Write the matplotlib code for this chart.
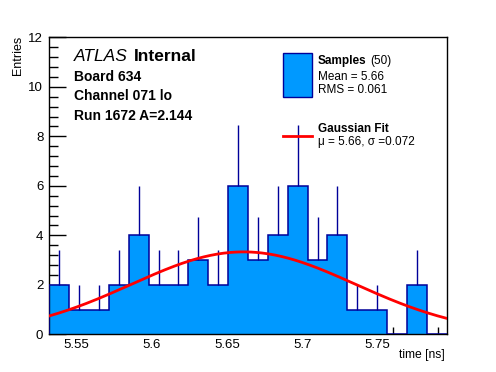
import numpy as np
import matplotlib
matplotlib.use('Agg')
import matplotlib.pyplot as plt
from matplotlib.patches import Rectangle
from matplotlib.lines import Line2D

# histogram of pulse times, 20 bins
counts = [2, 1, 1, 2, 4, 2, 2, 3, 2, 6, 3, 4, 6, 3, 4, 1, 1, 0, 2, 0]
x_lo, x_hi = 5.532, 5.796
# gaussian fit as drawn
fit_amp, fit_mu, fit_sigma = 3.33, 5.661, 0.0745

xticks = [5.55, 5.6, 5.65, 5.7, 5.75]
xtick_labels = ['5.55', '5.6', '5.65', '5.7', '5.75']
yticks = [0, 2, 4, 6, 8, 10, 12]

W, H = 496, 372
fill_col = '#0099ff'
edge_col = '#000099'

plt.rcParams['font.family'] = ['Liberation Sans', 'DejaVu Sans']


def px(x, y):
    return x / W, 1 - y / H


fig = plt.figure(figsize=(W / 100, H / 100), dpi=100)
ax = fig.add_axes([49.3 / W, (H - 334.3) / H, (446.7 - 49.3) / W, (334.3 - 37.3) / H])

counts = np.array(counts, dtype=float)
edges = np.linspace(x_lo, x_hi, len(counts) + 1)
centers = 0.5 * (edges[:-1] + edges[1:])

ax.stairs(counts, edges, fill=True, color=fill_col, zorder=2)
ax.stairs(counts, edges, baseline=0, color=edge_col, lw=1.1, zorder=3)
nz = counts > 0
ax.vlines(centers[nz], counts[nz], counts[nz] + np.sqrt(counts[nz]), color=edge_col, lw=1.0, zorder=3)

xs = np.linspace(x_lo, x_hi, 300)
ax.plot(xs, fit_amp * np.exp(-(xs - fit_mu) ** 2 / (2 * fit_sigma ** 2)), color='red', lw=2, zorder=4)

ax.set_xlim(x_lo, x_hi)
ax.set_ylim(0, 12)
ax.set_xticks(xticks)
ax.set_xticklabels(xtick_labels)
ax.set_yticks(yticks)
ax.set_xticks(np.arange(5.54, 5.80, 0.01), minor=True)
ax.set_yticks(np.arange(0, 12.01, 0.4), minor=True)
ax.tick_params(axis='both', which='both', direction='in', top=False, right=False, labelsize=9.5, width=1)
ax.tick_params(axis='y', which='major', length=12, pad=4.3)
ax.tick_params(axis='y', which='minor', length=6.5)
ax.tick_params(axis='x', which='major', length=10, pad=3.6)
ax.tick_params(axis='x', which='minor', length=5)
for s in ax.spines.values():
    s.set_linewidth(1)

fig.text(*px(18, 36), 'Entries', rotation=90, ha='center', va='top', fontsize=9)
fig.text(*px(445, 355), 'time [ns]', ha='right', va='center', fontsize=8.7)

fig.text(*px(73.5, 56.5), 'ATLAS', style='italic', fontsize=12.5, va='center')
fig.text(*px(133.5, 56.5), 'Internal', weight='bold', fontsize=12.5, va='center')
fig.text(*px(74, 77), 'Board 634', weight='bold', fontsize=10, va='center')
fig.text(*px(74, 96.5), 'Channel 071 lo', weight='bold', fontsize=10, va='center')
fig.text(*px(74, 115.5), 'Run 1672 A=2.144', weight='bold', fontsize=10, va='center')

# legend drawn by hand (ROOT style)
fig.patches.append(Rectangle(px(283.3, 96.7), 28.4 / W, 43.4 / H, transform=fig.transFigure,
                             facecolor=fill_col, edgecolor=edge_col, lw=1))
fig.lines.append(Line2D([283.3 / W, 311.7 / W], [1 - 135.5 / H] * 2, transform=fig.transFigure, color='red', lw=2))
fig.text(*px(317.7, 61), 'Samples', weight='bold', fontsize=8.5, va='center')
fig.text(*px(370, 61), '(50)', fontsize=8.5, va='center')
fig.text(*px(317.7, 76.5), 'Mean = 5.66', fontsize=8.5, va='center')
fig.text(*px(317.7, 90), 'RMS = 0.061', fontsize=8.5, va='center')
fig.text(*px(317.7, 129.3), 'Gaussian Fit', weight='bold', fontsize=8.5, va='center')
fig.text(*px(317.7, 141.5), 'μ = 5.66, σ =0.072', fontsize=8.5, va='center')

fig.savefig('out.png', dpi=100)
